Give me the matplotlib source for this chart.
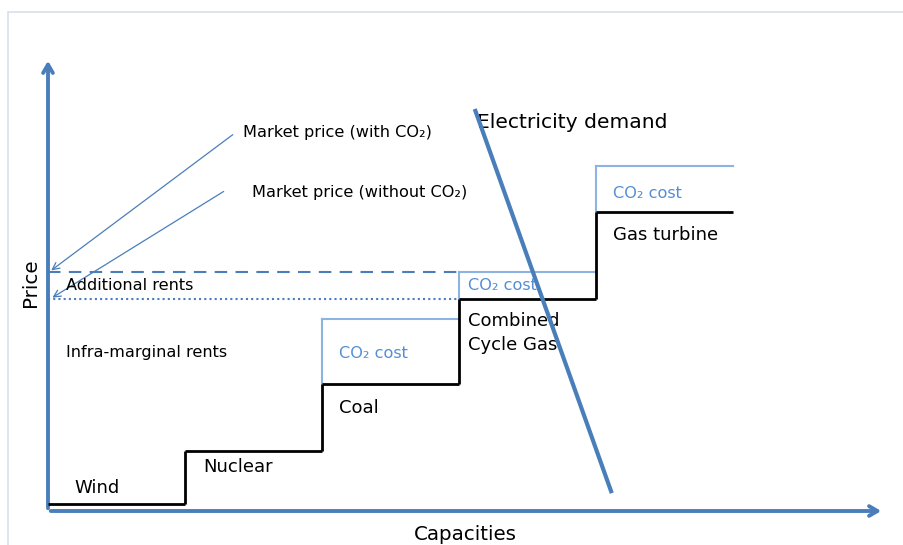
import matplotlib
matplotlib.use("Agg")
import matplotlib.pyplot as plt
from matplotlib.patches import Rectangle

# ---- data (capacity units, price units) ----
technologies = ["Wind", "Nuclear", "Coal", "Combined\nCycle Gas", "Gas turbine"]
capacity_widths = [1.0, 1.0, 1.0, 1.0, 1.0]
fuel_cost = [1.6, 13.3, 28.2, 47.1, 66.4]
co2_cost = [0.0, 0.0, 14.4, 6.0, 10.2]
demand_capacity = [3.12, 4.11]
demand_price = [88.9, 4.4]
co2_label = "CO\u2082 cost"

# ---- styling ----
BLUE = "#4A7EBB"
LIGHT = "#8DB3E2"
CO2TXT = "#558ED5"
FONT = ["DejaVu Sans"]
plt.rcParams["font.family"] = FONT

W, H = 904, 545
fig = plt.figure(figsize=(W / 100, H / 100), dpi=100)
ax = fig.add_axes([0, 0, 1, 1])
ox, oy = 48, 511          # pixel origin
kx, ky = 137.0, 4.5       # pixels per unit
ax.set_xlim(-ox / kx, (W - ox) / kx)
ax.set_ylim((oy - H) / ky, oy / ky)
ax.axis("off")

def px(x):
    return (x - ox) / kx

def py(y):
    return (oy - y) / ky

# outer faint frame
fig.patches.append(Rectangle((8 / W, -0.01), 1.1, 1 - 12 / H + 0.01, transform=fig.transFigure,
                             fill=False, edgecolor="#D8E0EC", lw=1.2))

# axes arrows
ax.annotate("", xy=(0, py(58)), xytext=(0, 0),
            arrowprops=dict(arrowstyle="->,head_length=0.6,head_width=0.35", color=BLUE, lw=2.8))
ax.annotate("", xy=(px(884), 0), xytext=(0, 0),
            arrowprops=dict(arrowstyle="->,head_length=0.6,head_width=0.35", color=BLUE, lw=2.8))

# merit order steps
starts = [sum(capacity_widths[:i]) for i in range(len(capacity_widths))]
for i, (x0, w, f, c) in enumerate(zip(starts, capacity_widths, fuel_cost, co2_cost)):
    ax.plot([x0, x0 + w], [f, f], color="black", lw=2, solid_capstyle="butt", zorder=3)
    if i > 0:
        prev = fuel_cost[i - 1]
        ax.plot([x0, x0], [prev, f], color="black", lw=2, solid_capstyle="butt", zorder=3)
    if c > 0:
        ax.plot([x0, x0 + w], [f + c, f + c], color=LIGHT, lw=1.5, zorder=2)
        ax.plot([x0, x0], [f, f + c], color=LIGHT, lw=1.5, zorder=2)

# market prices
p_with = fuel_cost[3] + co2_cost[3]
p_without = fuel_cost[3]
ax.plot([0, starts[3]], [p_with, p_with], color=BLUE, lw=1.5, ls=(0, (6, 4)), zorder=2)
ax.plot([0, starts[3]], [p_without, p_without], color=BLUE, lw=1.5, ls=(0, (1, 1.5)), zorder=2)

# demand curve
ax.plot(demand_capacity, demand_price, color=BLUE, lw=3, zorder=4)

# arrows from labels to prices
ax.annotate("", xy=(px(49), p_with), xytext=(px(235), py(133)),
            arrowprops=dict(arrowstyle="->,head_length=0.5,head_width=0.25", color=BLUE, lw=0.9))
ax.annotate("", xy=(px(50), p_without), xytext=(px(226), py(190)),
            arrowprops=dict(arrowstyle="->,head_length=0.5,head_width=0.25", color=BLUE, lw=0.9))

def t(x, y, s, size=11, color="black", **kw):
    ax.text(px(x), py(y), s, fontsize=size, color=color, va="center", ha="left", **kw)

SMALL, TECH = 11.6, 13.0
t(243, 133, "Market price (with CO\u2082)", SMALL)
t(252, 192, "Market price (without CO\u2082)", SMALL)
t(477, 123, "Electricity demand", 14.6)
t(66, 286, "Additional rents", SMALL)
t(66, 353, "Infra-marginal rents", SMALL)
t(339, 353, co2_label, SMALL, CO2TXT)
t(468, 286, co2_label, SMALL, CO2TXT)
t(613, 193, co2_label, SMALL, CO2TXT)
t(468, 333, technologies[3], TECH, linespacing=1.45)
t(613, 235, technologies[4], TECH)
t(339, 408, technologies[2], TECH)
t(203, 467, technologies[1], TECH)
t(74, 488, technologies[0], TECH)
ax.text(px(30), py(283), "Price", fontsize=14.3, rotation=90, va="center", ha="center")
ax.text(px(465), py(535), "Capacities", fontsize=14.3, va="center", ha="center")

fig.savefig("out.png", dpi=100)
